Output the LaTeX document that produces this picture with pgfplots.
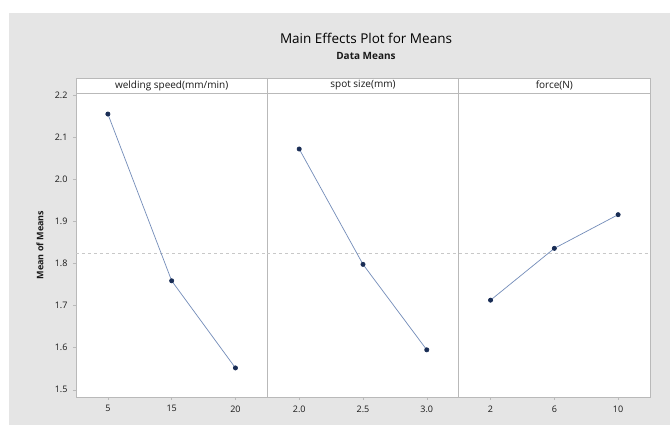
\documentclass[border=0pt]{standalone}
\usepackage{pgfplots}
\pgfplotsset{compat=1.18}
\usepackage{fontspec}
\setmainfont{Open Sans}
\definecolor{bggray}{RGB}{229,229,229}
\definecolor{framegray}{RGB}{185,185,185}
\definecolor{linecol}{RGB}{115,140,185}
\definecolor{markcol}{RGB}{25,45,85}
\definecolor{meancol}{RGB}{200,200,200}
\pgfplotsset{
  panel/.style={
    scale only axis, width=191.33pt, height=304pt, anchor=south west,
    xmin=0.5, xmax=3.5, ymin=1.483, ymax=2.205,
    xtick={1,2,3},
    axis line style={framegray}, tick style={framegray, line width=0.5pt},
    tick align=outside, major tick length=3pt,
    ytick={1.5,1.6,1.7,1.8,1.9,2.0,2.1,2.2},
    yticklabels={1.5,1.6,1.7,1.8,1.9,2.0,2.1,2.2},
    ymajorticks=false,
    xticklabel style={font=\fontsize{9}{11}\selectfont, text=black!90, yshift=-2pt},
    yticklabel style={font=\fontsize{9}{11}\selectfont, text=black!90, xshift=-2pt},
    clip=false,
    axis background/.style={fill=white},
  },
  meanline/.style={meancol, dashed, line width=0.6pt, forget plot},
  series/.style={linecol, line width=0.7pt, mark=*, mark size=2.1pt,
     mark options={fill=markcol, draw=markcol}},
}
\newcommand{\header}[1]{%
  \draw[framegray, fill=white, line width=0.5pt] (rel axis cs:0,1) rectangle ([yshift=15pt]rel axis cs:1,1);
  \node[font=\fontsize{10}{12}\selectfont, text=black!90] at ([yshift=7.5pt]rel axis cs:0.5,1) {#1};
}
\begin{document}
\begin{tikzpicture}
\path[fill=white] (0,0) rectangle (670pt,425pt);
\path[fill=bggray] (9pt,0) rectangle (670pt,412pt);
\node[font=\fontsize{13.5}{16}\selectfont, text=black] at (366pt,387pt) {Main Effects Plot for Means};
\node[font=\fontsize{10}{12}\selectfont\bfseries, text=black!90] at (366pt,369pt) {Data Means};
\node[font=\fontsize{9}{11}\selectfont\bfseries, text=black!90, rotate=90] at (40pt,180pt) {Mean of Means};

\begin{axis}[panel, at={(76pt,28pt)}, ymajorticks=true,
  xticklabels={5,15,20}]
  \addplot[meanline] coordinates {(0.5,1.824) (3.5,1.824)};
  \addplot[series] coordinates {(1,2.155) (2,1.759) (3,1.552)};
  \header{welding speed(mm/min)}
\end{axis}

\begin{axis}[panel, at={(267.33pt,28pt)},
  xticklabels={2.0,2.5,3.0}]
  \addplot[meanline] coordinates {(0.5,1.824) (3.5,1.824)};
  \addplot[series] coordinates {(1,2.072) (2,1.798) (3,1.595)};
  \header{spot size(mm)}
\end{axis}

\begin{axis}[panel, at={(458.67pt,28pt)},
  xticklabels={2,6,10}]
  \addplot[meanline] coordinates {(0.5,1.824) (3.5,1.824)};
  \addplot[series] coordinates {(1,1.713) (2,1.836) (3,1.916)};
  \header{force(N)}
\end{axis}
\end{tikzpicture}
\end{document}
